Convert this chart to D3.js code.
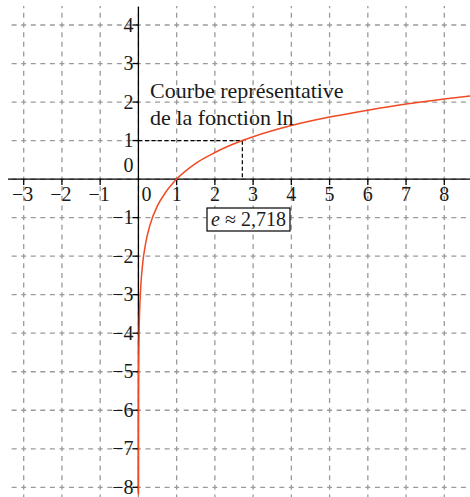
<!DOCTYPE html>
<html>
<head>
<meta charset="utf-8">
<script src="https://cdn.jsdelivr.net/npm/d3@7"></script>
<style>
  body { margin: 0; background: #fff; }
  svg { display: block; font-family: 'Liberation Serif', 'Times New Roman', serif; }
</style>
</head>
<body>
<script>
// Chart settings
const width = 470
const height = 497

// Data
const xTicks = [-3, -2, -1, 1, 2, 3, 4, 5, 6, 7, 8]
const yTicks = [-8, -7, -6, -5, -4, -3, -2, -1, 1, 2, 3, 4]
const xTickLabels = ['−3', '−2', '−1', '1', '2', '3', '4', '5', '6', '7', '8']
const yTickLabels = ['−8', '−7', '−6', '−5', '−4', '−3', '−2', '−1', '1', '2', '3', '4']
// points of the curve
const curveX = [0.00027, 0.001, 0.005, 0.02, 0.05, 0.1, 0.2, 0.3, 0.5, 0.7, 1, 1.5, 2, 2.718, 3, 4, 5, 6, 7, 8, 8.7]
const curveY = [-8.2, -6.9, -5.3, -3.9, -3.0, -2.3, -1.61, -1.2, -0.69, -0.36, 0, 0.41, 0.69, 1, 1.1, 1.39, 1.61, 1.79, 1.95, 2.08, 2.16]
const eValue = 2.718
const title = ['Courbe représentative', 'de la fonction ln']

// Colors
const gridColor = '#9a9a9a'
const curveColor = '#f04a24'

// Scales
const x = d3.scaleLinear().domain([-3, 8]).range([23.7, 444.3])
const y = d3.scaleLinear().domain([4, -8]).range([25, 487.3])

const svg = d3.select('body').append('svg')
  .attr('width', width)
  .attr('height', height)

// Grid: dashes centred on each crossing, four per unit
const xStep = (x(1) - x(0)) / 4
const yStep = (y(0) - y(1)) / 4
const gridTop = 6
const gridLeft = 8

const grid = svg.append('g')
  .attr('stroke', gridColor)
  .attr('stroke-width', 1.3)

grid.selectAll('line.v')
  .data(d3.range(-3, 9))
  .enter()
  .append('line')
  .attr('x1', d => x(d))
  .attr('x2', d => x(d))
  .attr('y1', gridTop)
  .attr('y2', height)
  .attr('stroke-dasharray', `${yStep * 0.52},${yStep * 0.48}`)
  .attr('stroke-dashoffset', yStep * 0.26 - ((y(4) - gridTop) % yStep))

grid.selectAll('line.h')
  .data(d3.range(-8, 5))
  .enter()
  .append('line')
  .attr('x1', gridLeft)
  .attr('x2', width)
  .attr('y1', d => y(d))
  .attr('y2', d => y(d))
  .attr('stroke-dasharray', `${xStep * 0.52},${xStep * 0.48}`)
  .attr('stroke-dashoffset', xStep * 0.26 - ((x(-3) - gridLeft) % xStep))

// Axes
const axes = svg.append('g')
  .attr('stroke', '#000')
  .attr('stroke-width', 1.3)

axes.append('line')
  .attr('x1', gridLeft).attr('x2', width)
  .attr('y1', y(0)).attr('y2', y(0))
axes.append('line')
  .attr('x1', x(0)).attr('x2', x(0))
  .attr('y1', 7).attr('y2', 493)

axes.selectAll('line.xt')
  .data(xTicks)
  .enter()
  .append('line')
  .attr('x1', d => x(d)).attr('x2', d => x(d))
  .attr('y1', y(0)).attr('y2', y(0) + 6)

axes.selectAll('line.yt')
  .data(yTicks)
  .enter()
  .append('line')
  .attr('x1', x(0) - 6).attr('x2', x(0))
  .attr('y1', d => y(d)).attr('y2', d => y(d))

// Tick labels
const labels = svg.append('g')
  .style('font-size', '20px')
  .attr('fill', '#1a1a1a')

labels.selectAll('text.xl')
  .data(xTicks)
  .enter()
  .append('text')
  .attr('x', d => x(d) - (d < 0 ? 1 : 0))
  .attr('y', y(0) + 22)
  .attr('text-anchor', 'middle')
  .text((d, i) => xTickLabels[i])

labels.selectAll('text.yl')
  .data(yTicks)
  .enter()
  .append('text')
  .attr('x', x(0) - 5)
  .attr('y', d => y(d) + 6.5)
  .attr('text-anchor', 'end')
  .text((d, i) => yTickLabels[i])

labels.append('text')
  .attr('x', x(0) + 3)
  .attr('y', y(0) + 22)
  .text('0')
labels.append('text')
  .attr('x', x(0) - 5)
  .attr('y', y(0) - 7)
  .attr('text-anchor', 'end')
  .text('0')

// Dashed guide lines to e
svg.append('path')
  .attr('d', `M${x(0)},${y(1)}H${x(eValue)}V${y(0)}`)
  .attr('fill', 'none')
  .attr('stroke', '#000')
  .attr('stroke-width', 1.2)
  .attr('stroke-dasharray', '4,2.5')

// Curve
const line = d3.line()
  .x(d => x(d[0]))
  .y(d => y(d[1]))
  .curve(d3.curveMonotoneX)

svg.append('path')
  .datum(curveX.map((d, i) => [d, curveY[i]]))
  .attr('d', line)
  .attr('fill', 'none')
  .attr('stroke', curveColor)
  .attr('stroke-width', 1.5)

// Title
svg.append('g')
  .style('font-size', '22px')
  .attr('fill', '#1a1a1a')
  .selectAll('text')
  .data(title)
  .enter()
  .append('text')
  .attr('x', 150)
  .attr('y', (d, i) => 98 + i * 27)
  .text(d => d)

// e label box
svg.append('rect')
  .attr('x', 207).attr('y', 208)
  .attr('width', 83).attr('height', 23)
  .attr('fill', '#fff')
  .attr('stroke', '#000')
  .attr('stroke-width', 1.2)
const eText = svg.append('text')
  .attr('x', 248.5).attr('y', 226)
  .attr('text-anchor', 'middle')
  .style('font-size', '20px')
  .attr('fill', '#1a1a1a')
eText.append('tspan').style('font-style', 'italic').text('e')
eText.append('tspan').text(' ≈ 2,718')
</script>
</body>
</html>
